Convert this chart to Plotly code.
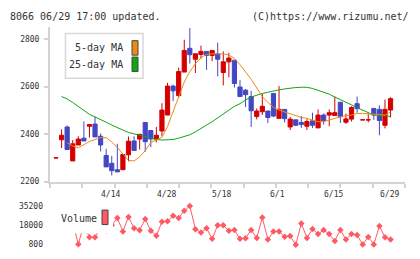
import plotly.graph_objects as go
import numpy as np

# ---------------- data ----------------
dates = ["3/31", "4/1", "4/2", "4/3", "4/6", "4/7", "4/8", "4/9", "4/10", "4/13",
         "4/14", "4/15", "4/16", "4/17", "4/20", "4/21", "4/22", "4/23", "4/24", "4/27",
         "4/28", "4/30", "5/1", "5/7", "5/8", "5/11", "5/12", "5/13", "5/14", "5/15",
         "5/18", "5/19", "5/20", "5/21", "5/22", "5/25", "5/26", "5/27", "5/28", "5/29",
         "6/1", "6/2", "6/3", "6/4", "6/5", "6/8", "6/9", "6/10", "6/11", "6/12",
         "6/15", "6/16", "6/17", "6/18", "6/19", "6/22", "6/23", "6/24", "6/25", "6/26",
         "6/29"]

opens = [2300, 2376, 2430, 2287, 2354, 2383, 2433, 2442, 2391, 2310,
         2277, 2250, 2250, 2313, 2371, 2379, 2449, 2415, 2379, 2413,
         2480, 2602, 2562, 2661, 2761, 2715, 2735, 2748, 2731, 2738,
         2659, 2704, 2711, 2598, 2585, 2558, 2474, 2494, 2497, 2571,
         2466, 2504, 2430, 2460, 2449, 2433, 2456, 2426, 2480, 2480,
         2478, 2534, 2450, 2463, 2528, 2460, 2460, 2508, 2504, 2437,
         2501]
highs = [2300, 2420, 2436, 2375, 2391, 2453, 2440, 2474, 2403, 2338,
         2308, 2359, 2314, 2390, 2391, 2399, 2449, 2415, 2430, 2530,
         2616, 2608, 2680, 2797, 2846, 2738, 2772, 2748, 2752, 2785,
         2748, 2742, 2711, 2627, 2590, 2582, 2508, 2569, 2497, 2571,
         2602, 2504, 2472, 2460, 2476, 2463, 2490, 2504, 2487, 2504,
         2558, 2534, 2487, 2517, 2558, 2460, 2487, 2508, 2521, 2545,
         2555]
lows = [2300, 2341, 2335, 2287, 2354, 2371, 2385, 2388, 2327, 2262,
        2226, 2241, 2250, 2285, 2331, 2335, 2325, 2345, 2365, 2392,
        2480, 2539, 2552, 2661, 2697, 2657, 2717, 2670, 2707, 2643,
        2605, 2639, 2596, 2558, 2514, 2430, 2462, 2480, 2447, 2471,
        2466, 2449, 2417, 2433, 2426, 2417, 2425, 2426, 2440, 2433,
        2478, 2447, 2443, 2453, 2490, 2460, 2449, 2460, 2395, 2424,
        2470]
closes = [2300, 2395, 2335, 2359, 2379, 2371, 2440, 2388, 2354, 2262,
          2246, 2241, 2314, 2370, 2331, 2399, 2368, 2379, 2395, 2501,
          2602, 2582, 2663, 2752, 2734, 2738, 2748, 2731, 2752, 2715,
          2704, 2720, 2613, 2558, 2566, 2498, 2497, 2517, 2470, 2476,
          2504, 2465, 2463, 2437, 2440, 2453, 2437, 2480, 2456, 2490,
          2490, 2473, 2464, 2512, 2507, 2460, 2460, 2480, 2457, 2504,
          2549]

ma5 = [None, None, 2363, 2350, 2342, 2357, 2369, 2377, 2385, 2385,
       2367, 2344, 2314, 2289, 2287, 2304, 2330, 2365, 2375, 2387,
       2432, 2497, 2558, 2619, 2663, 2696, 2722, 2735, 2738, 2738,
       2737, 2733, 2718, 2692, 2663, 2631, 2594, 2558, 2533, 2513,
       2501, 2493, 2485, 2476, 2470, 2466, 2458, 2452, 2452, 2460,
       2466, 2472, 2478, 2480, 2487, 2487, 2485, 2482, 2480, 2480,
       2493]
ma25 = [None, 2558, 2548, 2533, 2517, 2501, 2483, 2472, 2462, 2450,
        2438, 2426, 2417, 2407, 2401, 2395, 2389, 2383, 2377, 2375,
        2375, 2377, 2383, 2389, 2397, 2409, 2422, 2438, 2452, 2468,
        2483, 2499, 2517, 2528, 2544, 2556, 2564, 2571, 2576, 2582,
        2586, 2590, 2594, 2596, 2597, 2597, 2592, 2585, 2578, 2568,
        2556, 2546, 2535, 2523, 2511, 2501, 2489, 2480, 2480, 2476,
        2474]

volume = [15000, 20000, 17000, 21000, 1100, 19000, 7300, 7300, 16000, 13300,
          18000, 24500, 12500, 25400, 15400, 13700, 23700, 13100, 8800, 21100,
          21700, 26600, 24500, 30900, 35200, 14600, 11600, 15400, 6000, 18000,
          18000, 13100, 13800, 6000, 6600, 13800, 6800, 24900, 5400, 12400,
          12500, 7900, 8400, 800, 19700, 6800, 14800, 10300, 13800, 10300,
          4100, 13800, 5400, 10300, 9500, 900, 7700, 1000, 17400, 7300,
          5400]

price_ticks = [2200, 2400, 2600, 2800]
volume_ticks = [800, 18000, 35200]
date_labels = ["4/14", "4/28", "5/18", "6/1", "6/15", "6/29"]

# ---------------- styling ----------------
W, H = 420, 259
RED = "#d40000"
BLUE = "#4248c4"
ORANGE = "#f08a14"
GREEN = "#12a512"
VOLC = "#ff5a64"
AXC = "#d4d4d4"
TXT = "#333333"
FONT = "DejaVu Sans Mono"


def px(x):
    return x / W


def py(y):
    return 1 - y / H


idx = list(range(len(dates)))
red_i = [i for i in idx if closes[i] >= opens[i]]
blue_i = [i for i in idx if closes[i] < opens[i]]

fig = go.Figure()


def candles(sel, color):
    return go.Candlestick(
        x=sel,
        open=[opens[i] for i in sel], high=[highs[i] for i in sel],
        low=[lows[i] for i in sel], close=[closes[i] for i in sel],
        increasing=dict(line=dict(color=color, width=1), fillcolor=color),
        decreasing=dict(line=dict(color=color, width=1), fillcolor=color),
        whiskerwidth=0, showlegend=False, hoverinfo="skip",
        xaxis="x", yaxis="y")


fig.add_trace(candles(red_i, RED))
fig.add_trace(candles(blue_i, BLUE))
fig.add_trace(go.Scatter(x=idx, y=ma25, mode="lines", line=dict(color=GREEN, width=1),
                         showlegend=False, hoverinfo="skip", xaxis="x", yaxis="y"))
fig.add_trace(go.Scatter(x=idx, y=ma5, mode="lines", line=dict(color=ORANGE, width=1),
                         showlegend=False, hoverinfo="skip", xaxis="x", yaxis="y"))
fig.add_trace(go.Scatter(x=idx, y=volume, mode="lines+markers",
                         line=dict(color=VOLC, width=1),
                         marker=dict(symbol="diamond", size=5, color=VOLC),
                         cliponaxis=False, showlegend=False, hoverinfo="skip",
                         xaxis="x2", yaxis="y2"))

# x range in candle-index units (plot area 50..405 px, candle 0 at 56 px, 5.576 px/candle)
x0 = (50 - 56) / 5.576
x1 = (405 - 56) / 5.576
week_ticks = list(np.linspace(x0, x1, 12))

fig.update_layout(
    width=W, height=H, autosize=False,
    margin=dict(l=0, r=0, t=0, b=0),
    paper_bgcolor="white", plot_bgcolor="white",
    showlegend=False,
    boxgap=0.25, boxgroupgap=0,
    font=dict(family=FONT, size=8, color=TXT),
    xaxis=dict(domain=[px(50), px(405)], range=[x0, x1], anchor="y",
               tickvals=week_ticks, showticklabels=False,
               ticks="outside", ticklen=4, tickwidth=2, tickcolor=AXC,
               showline=True, linecolor=AXC, linewidth=2,
               showgrid=False, zeroline=False,
               rangeslider=dict(visible=False)),
    yaxis=dict(domain=[py(184), py(24)], range=[2200, 2850], anchor="x",
               tickvals=price_ticks, ticktext=[str(v) for v in price_ticks],
               ticks="outside", ticklen=4, tickwidth=2,
               tickcolor=AXC, showline=True, linecolor=AXC, linewidth=2,
               showgrid=False, zeroline=False,
               tickfont=dict(family=FONT, size=8, color=TXT),
               ticklabelstandoff=3),
    xaxis2=dict(domain=[px(50), px(405)], matches="x", anchor="y2",
                visible=False, showgrid=False, zeroline=False),
    yaxis2=dict(domain=[py(249.3), py(209.3)], range=[800, 35200], anchor="x2",
                tickvals=volume_ticks, ticktext=[str(v) for v in volume_ticks],
                ticks="", showline=False,
                showgrid=False, zeroline=False,
                tickfont=dict(family=FONT, size=8, color=TXT),
                ticklabelstandoff=6),
)

shapes = []
annotations = []

# plain white backdrop for the header strip
shapes.append(dict(type="rect", xref="paper", yref="paper", layer="above",
                   x0=0, x1=px(7), y0=py(2), y1=py(23),
                   line=dict(width=0), fillcolor="white"))

# header texts
annotations.append(dict(text="8066 06/29 17:00 updated.", x=px(8), y=py(13),
                        xref="paper", yref="paper", xanchor="left", yanchor="middle",
                        showarrow=False, font=dict(family=FONT, size=10, color=TXT)))
annotations.append(dict(text="(C)https://www.rizumu.net/", x=px(411), y=py(13),
                        xref="paper", yref="paper", xanchor="right", yanchor="middle",
                        showarrow=False, font=dict(family=FONT, size=10, color=TXT)))

# date labels between panels
for lab in date_labels:
    annotations.append(dict(text=lab, x=dates.index(lab) - 0.25, y=py(197.5),
                            xref="x", yref="paper", xanchor="center", yanchor="middle",
                            showarrow=False, font=dict(family=FONT, size=8, color=TXT)))

# main legend box
shapes.append(dict(type="rect", xref="paper", yref="paper", layer="above",
                   x0=px(65.5), x1=px(143), y0=py(30.5), y1=py(77),
                   line=dict(color="#d8d8d8", width=1.5), fillcolor="white"))
for label, col, yc in [("5-day MA", ORANGE, 45.5), ("25-day MA", GREEN, 62.5)]:
    annotations.append(dict(text=label, x=px(125), y=py(yc), xref="paper", yref="paper",
                            xanchor="right", yanchor="middle", showarrow=False,
                            font=dict(family=FONT, size=10, color=TXT)))
    shapes.append(dict(type="rect", xref="paper", yref="paper", layer="above",
                       x0=px(132), x1=px(138), y0=py(yc - 7.5), y1=py(yc + 7.5),
                       line=dict(color="#444444", width=1), fillcolor=col))

# volume legend (white background hides part of the line, as in the reference)
shapes.append(dict(type="rect", xref="paper", yref="paper", layer="above",
                   x0=px(52), x1=px(113), y0=py(204), y1=py(237.5),
                   line=dict(width=0), fillcolor="white"))
annotations.append(dict(text="Volume", x=px(59), y=py(222), xref="paper", yref="paper",
                        xanchor="left", yanchor="middle", showarrow=False,
                        font=dict(family=FONT, size=10, color=TXT)))
shapes.append(dict(type="rect", xref="paper", yref="paper", layer="above",
                   x0=px(102), x1=px(108), y0=py(213.5), y1=py(228.5),
                   line=dict(color="#444444", width=1), fillcolor=VOLC))

fig.update_layout(shapes=shapes, annotations=annotations)

fig.write_html("out.html", config={"displayModeBar": False})
